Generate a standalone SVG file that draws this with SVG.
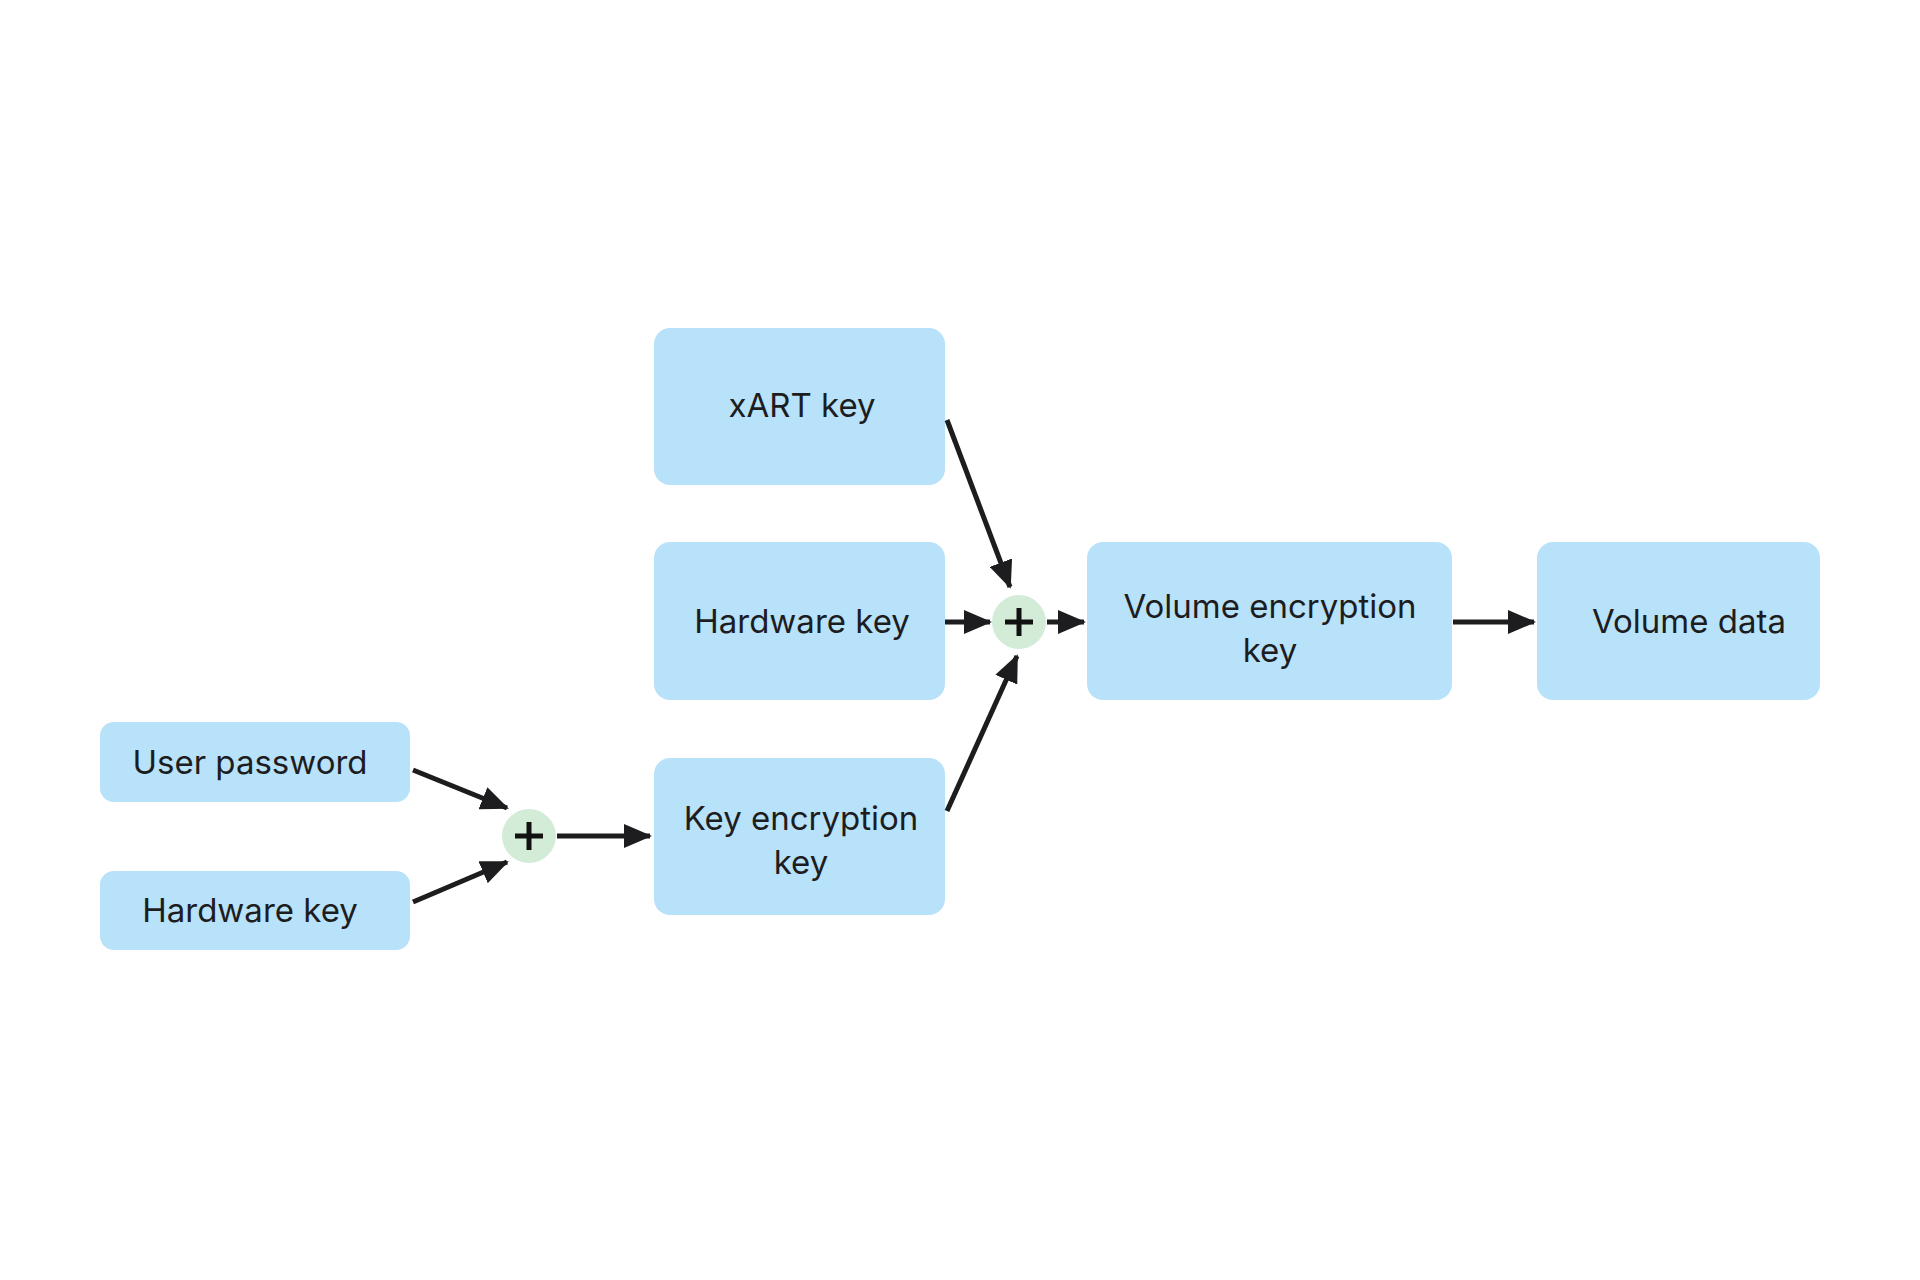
<svg xmlns="http://www.w3.org/2000/svg" width="1920" height="1280" viewBox="0 0 1920 1280">
<defs>
<style>
.box{fill:#b8e2f9}
.t{font-family:Inter,"Liberation Sans",sans-serif;font-size:33px;fill:#1d1d1f;text-anchor:middle}
.c{fill:#d3ecd8}
.p{stroke:#111;stroke-width:5}
.e{stroke:#1d1d1f;stroke-width:5;fill:none;marker-end:url(#ah)}
</style>
<marker id="ah" markerUnits="userSpaceOnUse" markerWidth="28" markerHeight="24" refX="26" refY="12" orient="auto" viewBox="0 0 28 24"><path d="M0,0 L28,12 L0,24 Z" fill="#1d1d1f"/></marker>
</defs>
<rect width="1920" height="1280" fill="#fff"/>
<g id="xart"><rect class="box" x="654" y="328" width="291" height="157" rx="16"/><text class="t" x="802" y="417">xART key</text></g>
<g id="hwkey1"><rect class="box" x="654" y="542" width="291" height="158" rx="16"/><text class="t" x="802" y="633">Hardware key</text></g>
<g id="kek"><rect class="box" x="654" y="758" width="291" height="157" rx="16"/><text class="t" x="801" y="830">Key encryption</text><text class="t" x="801" y="874">key</text></g>
<g id="vek"><rect class="box" x="1087" y="542" width="365" height="158" rx="16"/><text class="t" x="1270" y="618">Volume encryption</text><text class="t" x="1270" y="662">key</text></g>
<g id="vd"><rect class="box" x="1537" y="542" width="283" height="158" rx="16"/><text class="t" x="1689" y="633">Volume data</text></g>
<g id="userpw"><rect class="box" x="100" y="722" width="310" height="80" rx="14"/><text class="t" x="250" y="774">User password</text></g>
<g id="hwkey2"><rect class="box" x="100" y="871" width="310" height="79" rx="14"/><text class="t" x="250" y="922">Hardware key</text></g>
<g id="plus1"><circle class="c" cx="529" cy="836" r="27"/><path class="p" d="M515,836 H543 M529,822 V850"/></g>
<g id="plus2"><circle class="c" cx="1019" cy="622" r="27"/><path class="p" d="M1005,622 H1033 M1019,608 V636"/></g>
<g id="connectors">
<line class="e" x1="947" y1="420" x2="1010" y2="587"/>
<line class="e" x1="945" y1="622" x2="990" y2="622"/>
<line class="e" x1="1047" y1="622" x2="1084" y2="622"/>
<line class="e" x1="947" y1="811" x2="1017" y2="656"/>
<line class="e" x1="1453" y1="622" x2="1534" y2="622"/>
<line class="e" x1="413" y1="770" x2="507" y2="808"/>
<line class="e" x1="413" y1="902" x2="507" y2="862"/>
<line class="e" x1="557" y1="836" x2="650" y2="836"/>
</g>
</svg>
